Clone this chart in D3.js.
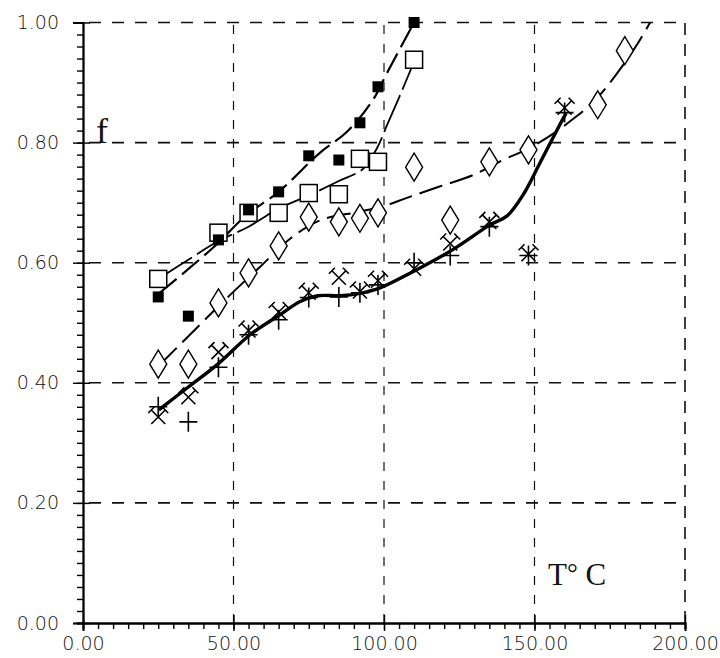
<!DOCTYPE html>
<html>
<head>
<meta charset="utf-8">
<script src="https://cdn.jsdelivr.net/npm/d3@7"></script>
<style>
  html, body { margin: 0; padding: 0; background: #fff; }
  svg { display: block; }
</style>
</head>
<body>
<svg id="chart" width="720" height="658"></svg>
<script>
// Temperature (°C) at which each sample was measured
const tempFilledSq = [25, 35, 45, 55, 65, 75, 85, 92, 98, 110];
const valFilledSq  = [0.543, 0.511, 0.638, 0.688, 0.718, 0.778, 0.771, 0.833, 0.893, 1.000];

const tempOpenSq = [25, 45, 55, 65, 75, 85, 92, 98, 110];
const valOpenSq  = [0.573, 0.650, 0.683, 0.683, 0.716, 0.714, 0.773, 0.768, 0.938];

const tempDiamond = [25, 35, 45, 55, 65, 75, 85, 92, 98, 110, 122, 135, 148, 171, 180];
const valDiamond  = [0.431, 0.431, 0.533, 0.583, 0.628, 0.676, 0.668, 0.674, 0.683, 0.759, 0.671, 0.768, 0.788, 0.863, 0.953];

const tempLow  = [25, 35, 45, 55, 65, 75, 85, 92, 98, 110, 122, 135, 148, 160];
const valPlus  = [0.360, 0.335, 0.426, 0.480, 0.505, 0.542, 0.543, 0.550, 0.563, 0.600, 0.612, 0.660, 0.612, 0.850];
const valCross = [0.343, 0.376, 0.451, 0.487, 0.518, 0.550, 0.575, 0.552, 0.570, 0.590, 0.632, 0.668, 0.614, 0.858];

// Hand-drawn fitted curves
const fitFilledT = [25.5, 43, 54.5, 65, 78.7, 87.7, 96.3, 101, 110];
const fitFilledV = [0.550, 0.624, 0.680, 0.718, 0.783, 0.818, 0.871, 0.916, 1.000];

const fitOpenT = [25, 35, 45, 55, 65, 75, 85, 93, 97.7, 101, 105, 110];
const fitOpenV = [0.573, 0.605, 0.636, 0.660, 0.690, 0.712, 0.736, 0.756, 0.791, 0.829, 0.875, 0.935];

const fitDiamondT = [25.5, 40.5, 48.8, 58.8, 68.8, 79, 92, 101, 107.6, 118, 129.6, 139.5, 148, 156, 163, 169, 174, 179, 184.4, 188.4];
const fitDiamondV = [0.430, 0.505, 0.546, 0.593, 0.640, 0.671, 0.685, 0.696, 0.708, 0.726, 0.746, 0.771, 0.790, 0.814, 0.840, 0.865, 0.893, 0.926, 0.966, 1.000];

const fitLowT = [25.2, 35, 45, 55.5, 65.4, 72, 78, 85.4, 92, 98.7, 109.6, 122.6, 135.2, 140.9, 146.2, 151.8, 157.8, 160.5];
const fitLowV = [0.355, 0.393, 0.432, 0.480, 0.513, 0.535, 0.545, 0.545, 0.549, 0.558, 0.585, 0.621, 0.663, 0.678, 0.713, 0.766, 0.824, 0.849];

const xTicks = [0, 50, 100, 150, 200];
const yTicks = [0, 0.2, 0.4, 0.6, 0.8, 1.0];

const svg = d3.select("#chart");
const x = d3.scaleLinear().domain([0, 200]).range([83, 685]);
const y = d3.scaleLinear().domain([0, 1]).range([623, 22.5]);

const zip = (a, b) => a.map((v, i) => [v, b[i]]);

// Dashed grid
const grid = svg.append("g").attr("stroke", "#111").attr("stroke-width", 1.6).attr("fill", "none");
yTicks.filter(v => v > 0).forEach(v => {
  grid.append("line").attr("x1", x(0)).attr("x2", x(200)).attr("y1", y(v)).attr("y2", y(v))
    .attr("stroke-dasharray", "12,11").attr("stroke-dashoffset", -6);
});
xTicks.filter(v => v > 0).forEach(v => {
  grid.append("line").attr("x1", x(v)).attr("x2", x(v)).attr("y1", y(0)).attr("y2", y(1))
    .attr("stroke-dasharray", v === 200 ? "12,9" : "9,10")
    .attr("stroke-width", v === 200 ? 1.6 : 1.2);
});

// Axes with major and minor ticks
const yAxis = d3.axisLeft(y).tickValues(yTicks).tickFormat(d3.format(".2f")).tickSize(10).tickPadding(14);
const gy = svg.append("g").attr("transform", `translate(${x(0)},0)`).call(yAxis);
gy.selectAll(".tick line").clone().attr("x2", 7);
const yMinor = d3.axisLeft(y).tickValues(d3.range(0, 1.0001, 0.02)).tickSize(6).tickFormat("");
svg.append("g").attr("transform", `translate(${x(0)},0)`).call(yMinor);

const xAxis = d3.axisBottom(x).tickValues(xTicks).tickFormat(d3.format(".2f")).tickSize(8).tickPadding(6);
const gx = svg.append("g").attr("transform", `translate(0,${y(0)})`).call(xAxis);
gx.selectAll(".tick line").clone().attr("y2", -8);
const xMinor = d3.axisBottom(x).tickValues(d3.range(0, 200.001, 5)).tickSize(6).tickFormat("");
svg.append("g").attr("transform", `translate(0,${y(0)})`).call(xMinor);

svg.selectAll(".domain").attr("stroke", "#000").attr("stroke-width", 1.8);
svg.selectAll(".tick line").attr("stroke", "#000").attr("stroke-width", 1.4);
svg.selectAll(".tick text").attr("font-family", "DejaVu Sans, sans-serif").attr("font-size", 19)
  .attr("fill", "#111").attr("font-weight", 300);

// Fitted curves
const curve = d3.line().x(d => x(d[0])).y(d => y(d[1])).curve(d3.curveCatmullRom.alpha(0.5));
const lines = svg.append("g").attr("fill", "none").attr("stroke", "#000").attr("stroke-linecap", "butt");
lines.append("path").attr("d", curve(zip(fitDiamondT, fitDiamondV))).attr("stroke-width", 2).attr("stroke-dasharray", "24,8");
lines.append("path").attr("d", curve(zip(fitOpenT, fitOpenV))).attr("stroke-width", 1.8).attr("stroke-dasharray", "40,6");
lines.append("path").attr("d", curve(zip(fitFilledT, fitFilledV))).attr("stroke-width", 2.2).attr("stroke-dasharray", "22,7");
lines.append("path").attr("d", curve(zip(fitLowT, fitLowV))).attr("stroke-width", 3.4);

// Markers
const marks = svg.append("g");
zip(tempDiamond, valDiamond).forEach(([t, v]) => {
  const cx = x(t), cy = y(v);
  marks.append("path").attr("d", `M${cx},${cy - 14}L${cx + 8.5},${cy}L${cx},${cy + 14}L${cx - 8.5},${cy}Z`)
    .attr("fill", "#fff").attr("stroke", "#000").attr("stroke-width", 1.4);
});
zip(tempOpenSq, valOpenSq).forEach(([t, v]) => {
  marks.append("rect").attr("x", x(t) - 8.5).attr("y", y(v) - 8.5).attr("width", 17).attr("height", 17)
    .attr("fill", "#fff").attr("stroke", "#000").attr("stroke-width", 1.5);
});
zip(tempFilledSq, valFilledSq).forEach(([t, v]) => {
  marks.append("rect").attr("x", x(t) - 5.5).attr("y", y(v) - 5.5).attr("width", 11).attr("height", 11)
    .attr("fill", "#000");
});
zip(tempLow, valPlus).forEach(([t, v]) => {
  const cx = x(t), cy = y(v);
  marks.append("path").attr("d", `M${cx},${cy - 10}V${cy + 10}M${cx - 9},${cy}H${cx + 9}`)
    .attr("stroke", "#000").attr("stroke-width", 1.6).attr("fill", "none");
});
zip(tempLow, valCross).forEach(([t, v]) => {
  const cx = x(t), cy = y(v), a = 7, c = 3;
  marks.append("path")
    .attr("d", `M${cx - a},${cy - a}L${cx + a},${cy + a}M${cx + a},${cy - a}L${cx - a},${cy + a}` +
               `M${cx - a - c},${cy - a + c}L${cx - a + c},${cy - a - c}` +
               `M${cx + a - c},${cy - a - c}L${cx + a + c},${cy - a + c}`)
    .attr("stroke", "#000").attr("stroke-width", 1.6).attr("fill", "none");
});

// Axis titles
svg.append("text").attr("x", 96).attr("y", y(0.8)).attr("font-family", "Liberation Serif, serif")
  .attr("font-size", 36).attr("fill", "#111").text("f");
const tt = svg.append("text").attr("x", 548).attr("y", 585).attr("font-family", "Liberation Serif, serif")
  .attr("font-size", 31).attr("fill", "#111");
tt.append("tspan").text("T");
tt.append("tspan").attr("font-size", 27).attr("dy", -3).text("°");
tt.append("tspan").attr("dy", 3).text(" C");
</script>
</body>
</html>
